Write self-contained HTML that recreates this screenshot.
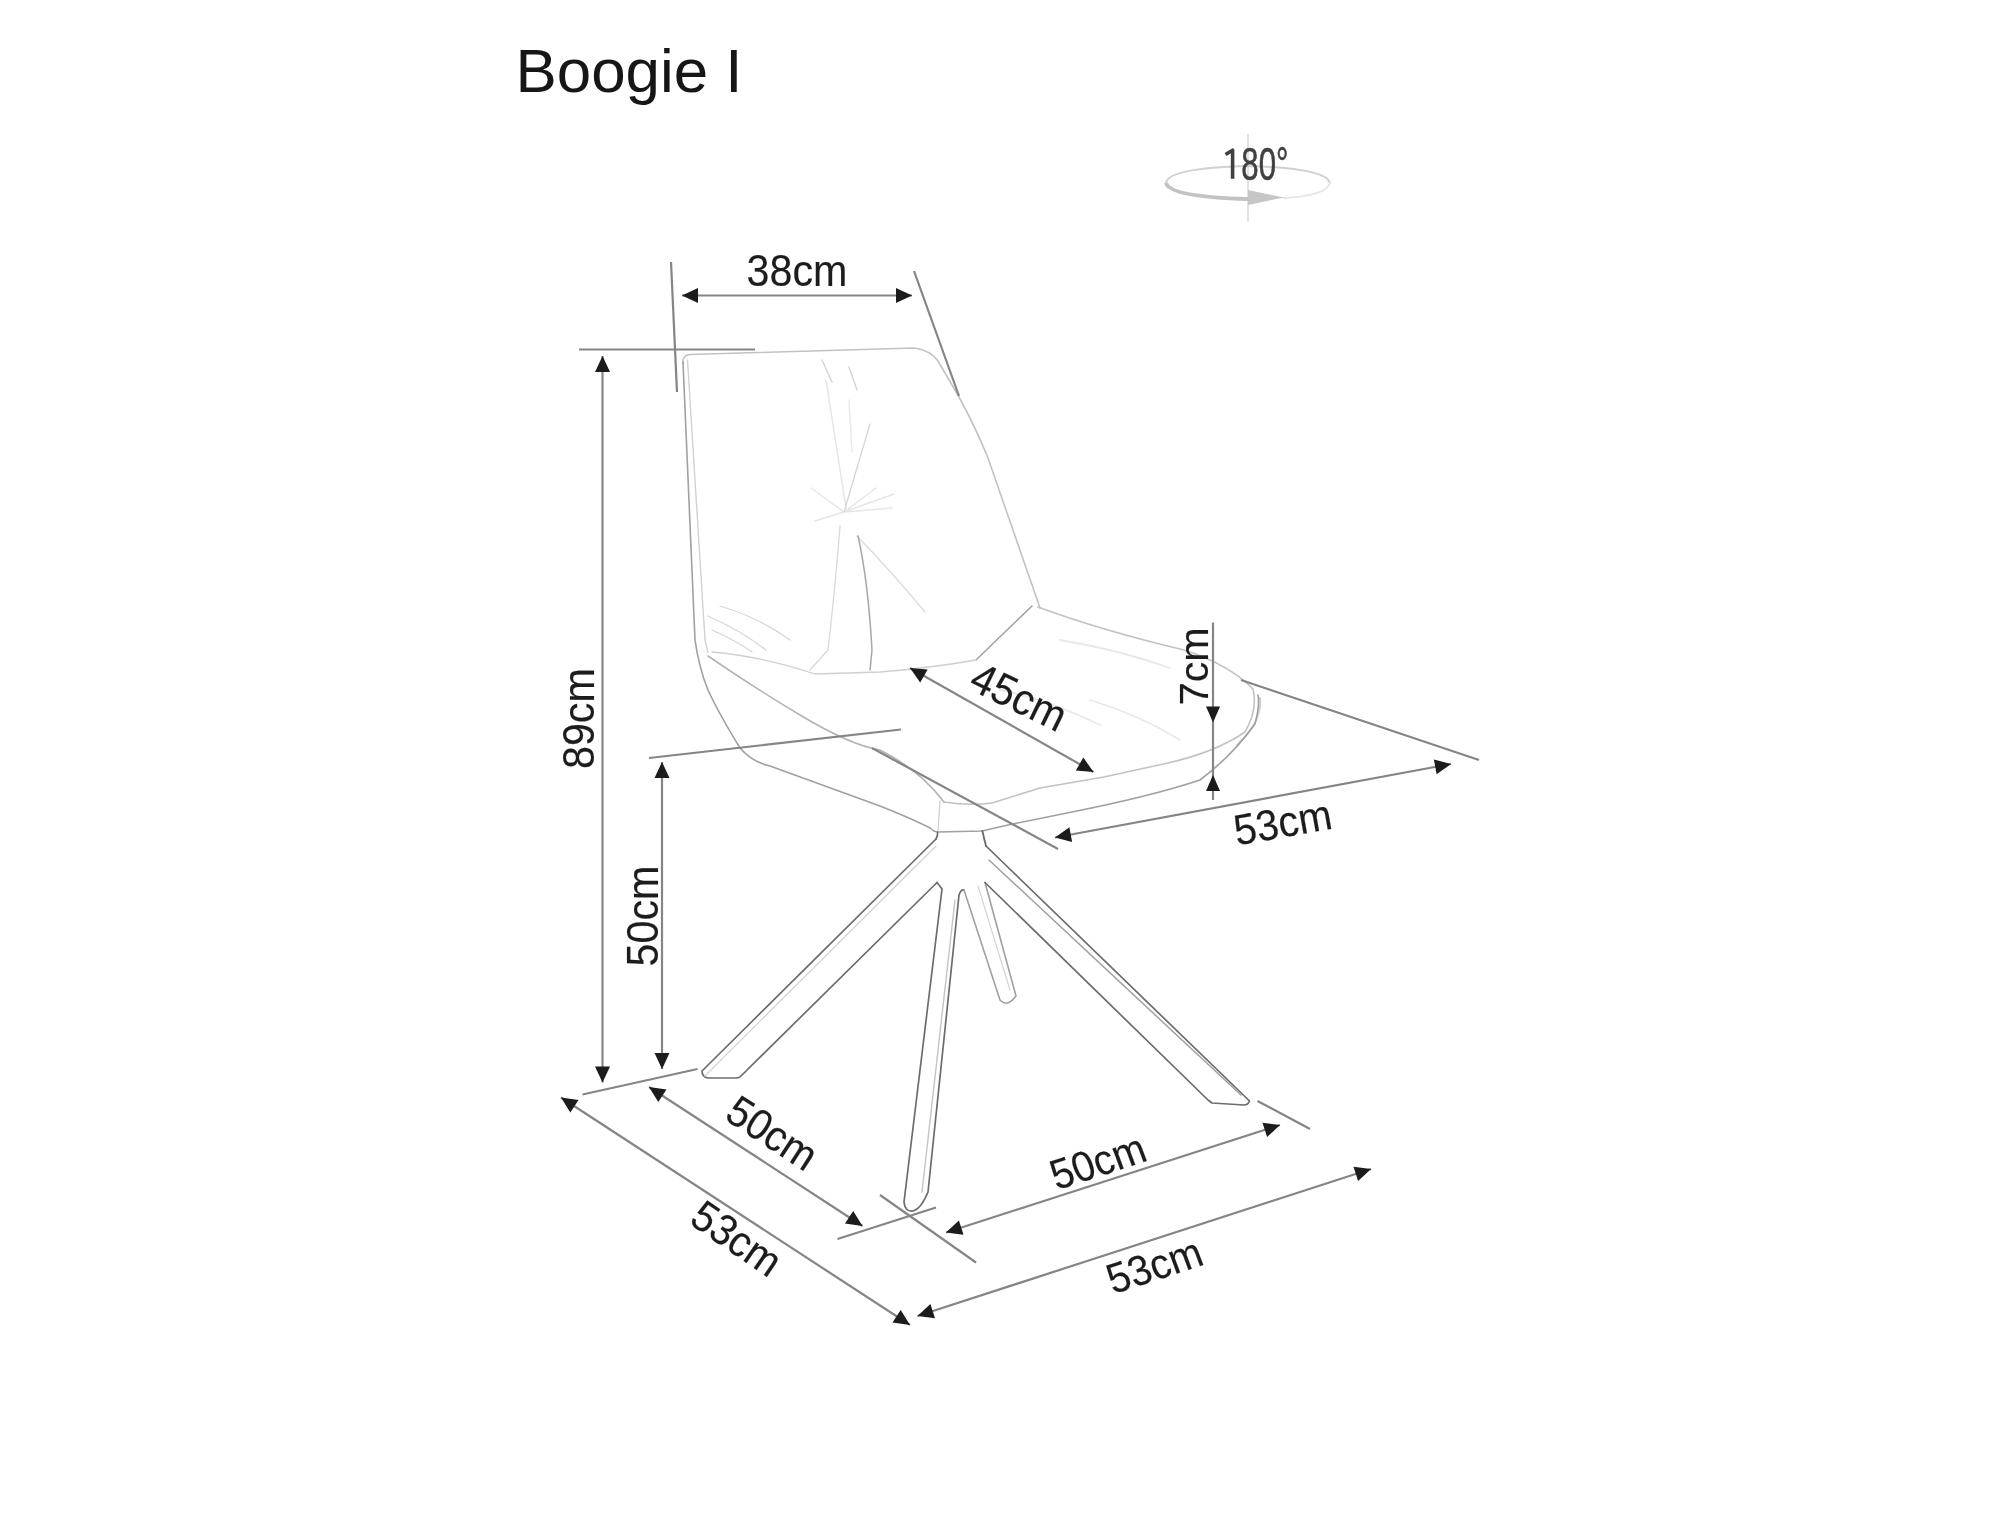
<!DOCTYPE html><html><head><meta charset="utf-8"><style>html,body{margin:0;padding:0;background:#fff;}svg{display:block;}text{font-family:"Liberation Sans", sans-serif;}</style></head><body>
<svg width="2000" height="1530" viewBox="0 0 2000 1530">
<rect width="2000" height="1530" fill="#ffffff"/>
<defs><filter id="soft" x="0" y="0" width="2000" height="1530" filterUnits="userSpaceOnUse"><feGaussianBlur stdDeviation="0.55"/></filter></defs>
<g filter="url(#soft)">
<path d="M844,512 L811,488 M844,512 L894,494 M844,512 L876,488 M844,512 L892,508 M844,512 L815,521 M846,508 L826,380" stroke="#e6e6e6" stroke-width="1.5" fill="none" stroke-linecap="round" stroke-linejoin="round"/>
<path d="M708,616 Q740,630 766,650 M712,630 Q735,640 752,652 M720,606 Q760,618 790,640" stroke="#d6d6d6" stroke-width="1.3" fill="none" stroke-linecap="round" stroke-linejoin="round"/>
<path d="M857,536 Q890,570 925,612" stroke="#dddddd" stroke-width="1.5" fill="none" stroke-linecap="round" stroke-linejoin="round"/>
<path d="M849,400 L852,452" stroke="#e8e8e8" stroke-width="1.4" fill="none" stroke-linecap="round" stroke-linejoin="round"/>
<path d="M1060,640 Q1120,650 1170,668 M1090,700 Q1140,715 1180,740 M1000,690 Q1050,700 1100,725" stroke="#e8e8e8" stroke-width="1.8" fill="none" stroke-linecap="round" stroke-linejoin="round"/>
<path d="M1260,698 Q1263,720 1237,745" stroke="#d2d2d2" stroke-width="2" fill="none" stroke-linecap="round" stroke-linejoin="round"/>
<path d="M683,364 Q682,355 690,354.5 L914,348 Q930,350 938,361 L959,397 Q975,426 988,458 L1040,608" stroke="#c2c2c2" stroke-width="1.6" fill="none" stroke-linecap="round" stroke-linejoin="round"/>
<path d="M687.5,360 L705,640 L708,652" stroke="#d2d2d2" stroke-width="1.4" fill="none" stroke-linecap="round" stroke-linejoin="round"/>
<path d="M683,362 L695,640 Q699,668 708,690 Q718,712 740,748 Q752,762 770,766 L880,806 Q915,820 930,828 Q934,832 938,832 L982,831 L1008,825 L1072,812 Q1152,796 1200,780 Q1232,756 1255,724 Q1260,705 1258,695" stroke="#a0a0a0" stroke-width="1.6" fill="none" stroke-linecap="round" stroke-linejoin="round"/>
<path d="M1038,607 Q1100,630 1184,650 Q1230,665 1253,689 Q1258,710 1245,732 Q1216,752 1168,763 L1104,777 L1040,788 L992,803 Q970,806 944,802" stroke="#c2c2c2" stroke-width="1.6" fill="none" stroke-linecap="round" stroke-linejoin="round"/>
<path d="M708,656 Q750,685 800,715 Q850,745 880,750 Q920,770 944,802" stroke="#b4b4b4" stroke-width="1.6" fill="none" stroke-linecap="round" stroke-linejoin="round"/>
<path d="M1032,606 L976,660" stroke="#a0a0a0" stroke-width="1.5" fill="none" stroke-linecap="round" stroke-linejoin="round"/>
<path d="M844,512 L870,424" stroke="#d4d4d4" stroke-width="1.3" fill="none" stroke-linecap="round" stroke-linejoin="round"/>
<path d="M858,536 Q868,580 872,650 L870,670" stroke="#a8a8a8" stroke-width="1.5" fill="none" stroke-linecap="round" stroke-linejoin="round"/>
<path d="M840,526 Q835,590 828,650 L810,670" stroke="#d8d8d8" stroke-width="1.3" fill="none" stroke-linecap="round" stroke-linejoin="round"/>
<path d="M822,360 L832,382 M849,367 L857,390" stroke="#d4d4d4" stroke-width="1.4" fill="none" stroke-linecap="round" stroke-linejoin="round"/>
<path d="M712,652 Q760,656 815,674 L880,672 Q930,668 976,660" stroke="#cfcfcf" stroke-width="1.3" fill="none" stroke-linecap="round" stroke-linejoin="round"/>
<path d="M940,801 L938,832" stroke="#d0d0d0" stroke-width="1.3" fill="none" stroke-linecap="round" stroke-linejoin="round"/>
<path d="M937.6,832 Q938,836 936,839" stroke="#6c6c6c" stroke-width="1.7" fill="none" stroke-linecap="round" stroke-linejoin="round"/>
<path d="M982.4,831 Q984,838 986,846" stroke="#6c6c6c" stroke-width="1.8" fill="none" stroke-linecap="round" stroke-linejoin="round"/>
<path d="M936,839 L702,1071 Q702,1077 708,1078 L737,1078 Q739,1078 741,1076 L937,882.5" stroke="#6c6c6c" stroke-width="1.7" fill="none" stroke-linecap="round" stroke-linejoin="round"/>
<path d="M936,846 L705,1076" stroke="#d0d0d0" stroke-width="1.2" fill="none" stroke-linecap="round" stroke-linejoin="round"/>
<path d="M937,882.5 L942,889 L904,1202 Q905,1212 913,1211 Q921,1209 928,1192 L959,895 Q961,889 964,890" stroke="#6c6c6c" stroke-width="1.7" fill="none" stroke-linecap="round" stroke-linejoin="round"/>
<path d="M955,900 L922,1192" stroke="#c4c4c4" stroke-width="1.4" fill="none" stroke-linecap="round" stroke-linejoin="round"/>
<path d="M964,890 L1000,1000 Q1007,1008 1016,996 L985,882.5" stroke="#a0a0a0" stroke-width="1.6" fill="none" stroke-linecap="round" stroke-linejoin="round"/>
<path d="M978,886 L1010,990" stroke="#d4d4d4" stroke-width="1.2" fill="none" stroke-linecap="round" stroke-linejoin="round"/>
<path d="M986,846 L1249.5,1101 Q1248,1105 1244,1105 L1212,1103 L1208,1100 L985,882.5" stroke="#6c6c6c" stroke-width="1.7" fill="none" stroke-linecap="round" stroke-linejoin="round"/>
<path d="M989,860 L1241,1095" stroke="#a0a0a0" stroke-width="1.5" fill="none" stroke-linecap="round" stroke-linejoin="round"/>
<line x1="682" y1="295.5" x2="912" y2="295.5" stroke="#858585" stroke-width="2.2"/>
<polygon points="682.0,295.5 698.0,288.0 698.0,303.0" fill="#1a1a1a"/>
<polygon points="912.0,295.5 896.0,303.0 896.0,288.0" fill="#1a1a1a"/>
<line x1="671" y1="262" x2="677" y2="392" stroke="#858585" stroke-width="2.2"/>
<line x1="914" y1="271" x2="959" y2="396" stroke="#858585" stroke-width="2.2"/>
<line x1="579" y1="349.5" x2="755" y2="349.5" stroke="#858585" stroke-width="2.2"/>
<line x1="602.5" y1="356" x2="602.5" y2="1082.5" stroke="#858585" stroke-width="2.2"/>
<polygon points="602.5,356.0 610.0,372.0 595.0,372.0" fill="#1a1a1a"/>
<polygon points="602.5,1082.5 595.0,1066.5 610.0,1066.5" fill="#1a1a1a"/>
<line x1="662" y1="762" x2="662" y2="1069" stroke="#858585" stroke-width="2.2"/>
<polygon points="662.0,762.0 669.5,778.0 654.5,778.0" fill="#1a1a1a"/>
<polygon points="662.0,1069.0 654.5,1053.0 669.5,1053.0" fill="#1a1a1a"/>
<line x1="649" y1="758" x2="901" y2="729.5" stroke="#858585" stroke-width="2.2"/>
<line x1="582.5" y1="1094.5" x2="697.5" y2="1069" stroke="#858585" stroke-width="2.2"/>
<line x1="910" y1="668" x2="1093.5" y2="772" stroke="#858585" stroke-width="2.2"/>
<polygon points="910.0,668.0 927.6,669.4 920.2,682.4" fill="#1a1a1a"/>
<polygon points="1093.5,772.0 1075.9,770.6 1083.3,757.6" fill="#1a1a1a"/>
<line x1="1213" y1="622.5" x2="1213" y2="800" stroke="#858585" stroke-width="2.2"/>
<polygon points="1213.0,722.5 1206.0,706.5 1220.0,706.5" fill="#1a1a1a"/>
<polygon points="1213.0,775.0 1220.0,791.0 1206.0,791.0" fill="#1a1a1a"/>
<line x1="1241" y1="680" x2="1479" y2="760" stroke="#858585" stroke-width="2.2"/>
<line x1="1055" y1="837.5" x2="1451" y2="764" stroke="#858585" stroke-width="2.2"/>
<polygon points="1055.0,837.5 1069.4,827.2 1072.1,842.0" fill="#1a1a1a"/>
<polygon points="1451.0,764.0 1436.6,774.3 1433.9,759.5" fill="#1a1a1a"/>
<line x1="872" y1="748" x2="1058" y2="849" stroke="#858585" stroke-width="2.2"/>
<line x1="561" y1="1097.5" x2="910" y2="1325" stroke="#858585" stroke-width="2.2"/>
<polygon points="561.0,1097.5 578.5,1100.0 570.3,1112.5" fill="#1a1a1a"/>
<polygon points="910.0,1325.0 892.5,1322.5 900.7,1310.0" fill="#1a1a1a"/>
<line x1="649" y1="1087" x2="862.5" y2="1226" stroke="#858585" stroke-width="2.2"/>
<polygon points="649.0,1087.0 666.5,1089.4 658.3,1102.0" fill="#1a1a1a"/>
<polygon points="862.5,1226.0 845.0,1223.6 853.2,1211.0" fill="#1a1a1a"/>
<line x1="837.5" y1="1239" x2="936" y2="1207.5" stroke="#858585" stroke-width="2.2"/>
<line x1="880" y1="1195" x2="976" y2="1262.5" stroke="#858585" stroke-width="2.2"/>
<line x1="946" y1="1232.5" x2="1280" y2="1125" stroke="#858585" stroke-width="2.2"/>
<polygon points="946.0,1232.5 958.9,1220.5 963.5,1234.7" fill="#1a1a1a"/>
<polygon points="1280.0,1125.0 1267.1,1137.0 1262.5,1122.8" fill="#1a1a1a"/>
<line x1="917.5" y1="1316" x2="1371" y2="1169" stroke="#858585" stroke-width="2.2"/>
<polygon points="917.5,1316.0 930.4,1303.9 935.0,1318.2" fill="#1a1a1a"/>
<polygon points="1371.0,1169.0 1358.1,1181.1 1353.5,1166.8" fill="#1a1a1a"/>
<line x1="1257.5" y1="1101" x2="1310" y2="1129" stroke="#858585" stroke-width="2.2"/>
<text x="515.5" y="91.8" font-size="62" textLength="227" lengthAdjust="spacingAndGlyphs" fill="#151515">Boogie I</text>
<g transform="translate(797,270.4) rotate(0) scale(0.96,1.025)"><text x="0" y="15.39" text-anchor="middle" font-size="43" fill="#1e1e1e" stroke="#1e1e1e" stroke-width="0.15">38cm</text></g>
<g transform="translate(578.7,718.6) rotate(-90) scale(0.96,1.025)"><text x="0" y="15.39" text-anchor="middle" font-size="43" fill="#1e1e1e" stroke="#1e1e1e" stroke-width="0.15">89cm</text></g>
<g transform="translate(642,916) rotate(-90) scale(0.96,1.025)"><text x="0" y="15.39" text-anchor="middle" font-size="43" fill="#1e1e1e" stroke="#1e1e1e" stroke-width="0.15">50cm</text></g>
<g transform="translate(1193.3,666.3) rotate(-90) scale(0.96,0.965)"><text x="0" y="15.39" text-anchor="middle" font-size="43" fill="#1e1e1e" stroke="#1e1e1e" stroke-width="0.15">7cm</text></g>
<g transform="translate(1019.2,696.2) rotate(26) scale(0.96,1.025)"><text x="0" y="15.39" text-anchor="middle" font-size="43" fill="#1e1e1e" stroke="#1e1e1e" stroke-width="0.15">45cm</text></g>
<g transform="translate(1282.5,821.8) rotate(-10) scale(0.96,1.025)"><text x="0" y="15.04" text-anchor="middle" font-size="42" fill="#1e1e1e" stroke="#1e1e1e" stroke-width="0.15">53cm</text></g>
<g transform="translate(772.6,1132.5) rotate(33) scale(0.96,1.025)"><text x="0" y="15.04" text-anchor="middle" font-size="42" fill="#1e1e1e" stroke="#1e1e1e" stroke-width="0.15">50cm</text></g>
<g transform="translate(737,1237.9) rotate(34.5) scale(0.96,1.025)"><text x="0" y="15.04" text-anchor="middle" font-size="42" fill="#1e1e1e" stroke="#1e1e1e" stroke-width="0.15">53cm</text></g>
<g transform="translate(1097.7,1161) rotate(-18) skewX(2.5) scale(0.96,1.025)"><text x="0" y="14.86" text-anchor="middle" font-size="41.5" fill="#1e1e1e" stroke="#1e1e1e" stroke-width="0.15">50cm</text></g>
<g transform="translate(1154.2,1265) rotate(-18) skewX(2.5) scale(0.96,1.025)"><text x="0" y="14.86" text-anchor="middle" font-size="41.5" fill="#1e1e1e" stroke="#1e1e1e" stroke-width="0.15">53cm</text></g>
<line x1="1248" y1="134" x2="1248" y2="222" stroke="#e2e2e2" stroke-width="2"/>
<path d="M1166,183 Q1168,168 1248,166 Q1326,168 1330,183" fill="none" stroke="#d0d0d0" stroke-width="2"/>
<path d="M1330,183 Q1326,196 1283,198" fill="none" stroke="#e6e6e6" stroke-width="2"/>
<path d="M1166,183 Q1170,197 1248,199" fill="none" stroke="#c2c2c2" stroke-width="4"/>
<polygon points="1248,190 1284,197.5 1248,205" fill="#c6c6c6"/>
<g transform="translate(1241.3,180) scale(0.78,1.15)"><text x="0" y="0" font-size="40" fill="#404040" stroke="#404040" stroke-width="0.5">80°</text></g>
<path d="M1225.5,154.5 L1232.6,150.2 L1232.6,178.8" fill="none" stroke="#404040" stroke-width="3.6" stroke-linejoin="round"/>
</g>
</svg></body></html>
